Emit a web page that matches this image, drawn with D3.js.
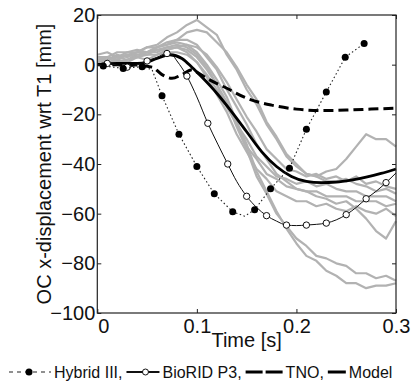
<!DOCTYPE html>
<html>
<head>
<meta charset="utf-8">
<script src="https://cdn.jsdelivr.net/npm/d3@7"></script>
<style>
  body { margin: 0; background: #fff; }
  text { font-family: "Liberation Sans", Arial, sans-serif; fill: #111; }
</style>
</head>
<body>
<div id="chart"></div>
<script>
// time grid shared by the grey subject curves [s]
const subjectTime = [0, 0.01, 0.02, 0.03, 0.04, 0.05, 0.06, 0.07, 0.08, 0.09, 0.10,
  0.11, 0.12, 0.13, 0.14, 0.15, 0.16, 0.17, 0.18, 0.19, 0.20,
  0.21, 0.22, 0.23, 0.24, 0.25, 0.26, 0.27, 0.28, 0.29, 0.30];

// volunteer curves (grey), OC x-displacement [mm]
const subjects = [
  [2, 3, 2, 4, 5, 7, 8, 11, 13, 16, 18, 15, 12, 4, -2, -10, -16, -24, -30, -37, -41, -44, -45, -43, -42, -38, -33, -28, -30, -30, -33],
  [1, 2, 4, 3, 5, 5, 7, 9, 10, 13, 14, 13, 9, 5, -1, -8, -14, -23, -29, -36, -40, -44, -45, -47, -47, -46, -48, -49, -51, -50, -52],
  [4, 5, 3, 5, 6, 5, 7, 8, 10, 10, 8, 3, -2, -10, -17, -24, -32, -38, -44, -47, -50, -51, -51, -53, -53, -53, -55, -55, -55, -57, -56],
  [0, 1, 2, 1, 3, 4, 4, 6, 7, 6, 3, -2, -8, -17, -24, -33, -38, -44, -46, -49, -50, -51, -53, -54, -56, -55, -58, -62, -67, -70, -63],
  [2, 3, 2, 4, 4, 4, 6, 6, 7, 5, 1, -5, -12, -19, -28, -35, -42, -46, -51, -53, -55, -55, -57, -56, -58, -59, -57, -59, -60, -58, -61],
  [1, 2, 3, 2, 4, 5, 5, 7, 8, 7, 4, -1, -8, -15, -25, -34, -45, -52, -60, -65, -70, -73, -77, -78, -80, -81, -84, -84, -86, -85, -87],
  [3, 3, 5, 5, 5, 7, 7, 8, 9, 8, 5, 0, -6, -13, -23, -32, -43, -51, -59, -66, -72, -77, -79, -83, -85, -88, -88, -90, -89, -89, -88],
  [2, 2, 3, 4, 3, 5, 6, 7, 7, 8, 7, 4, -1, -7, -14, -21, -27, -34, -38, -42, -43, -45, -44, -46, -45, -47, -45, -48, -47, -49, -50],
  [0, 1, 1, 2, 3, 2, 4, 5, 5, 4, 1, -4, -10, -16, -24, -30, -37, -41, -45, -46, -48, -47, -49, -48, -50, -51, -51, -53, -53, -53, -55]
];

// Hybrid III (dotted line, filled markers)
const hybridTime = [0, 0.006, 0.026, 0.045, 0.055, 0.065, 0.082, 0.1, 0.1175, 0.136, 0.148, 0.158, 0.174, 0.193, 0.21, 0.23, 0.249, 0.268, 0.272];
const hybridDisp = [0, -0.5, -1.5, -0.8, -2, -12.5, -28, -41, -52, -59.2, -61, -58.4, -50, -41.7, -26, -11, 3, 8.5, 9.5];
const hybridMarkTime = [0.006, 0.026, 0.045, 0.065, 0.082, 0.1, 0.1175, 0.136, 0.158, 0.174, 0.193, 0.21, 0.23, 0.249, 0.268];
const hybridMarkDisp = [-0.5, -1.5, -0.8, -12.5, -28, -41, -52, -59.2, -58.4, -50, -41.7, -26, -11, 3, 8.5];

// BioRID P3 (thin solid line, open markers)
const bioridTime = [0, 0.01, 0.03, 0.05, 0.06, 0.07, 0.075, 0.08, 0.09, 0.1, 0.111, 0.121, 0.131, 0.14, 0.15, 0.16, 0.17, 0.18, 0.19, 0.2, 0.21, 0.22, 0.23, 0.24, 0.25, 0.26, 0.27, 0.28, 0.29, 0.3];
const bioridDisp = [0, 0.5, -1, 1.5, 3, 4.5, 4, 1.5, -4.6, -13, -23.6, -32, -40, -47, -53, -57.5, -60.8, -63, -64.6, -64.8, -64.6, -64.3, -63.8, -62.5, -60.4, -57.5, -54, -51, -47.5, -43.6];
const bioridMarkTime = [0.01, 0.03, 0.05, 0.07, 0.09, 0.111, 0.131, 0.15, 0.17, 0.19, 0.21, 0.23, 0.25, 0.27, 0.29];
const bioridMarkDisp = [0.5, -1, 1.5, 4.5, -4.6, -23.6, -40, -53, -60.8, -64.6, -64.6, -63.8, -60.4, -54, -47.5];

// TNO (thick dashed)
const tnoTime = [0, 0.03, 0.055, 0.065, 0.075, 0.085, 0.095, 0.1, 0.11, 0.13, 0.15, 0.175, 0.2, 0.225, 0.25, 0.275, 0.3];
const tnoDisp = [0, 0, -1, -4, -5.5, -4, -2, -3, -5.5, -9.5, -13.5, -16.3, -17.9, -18.5, -18.3, -17.9, -17.5];

// Model (thick solid)
const modelTime = [0, 0.02, 0.04, 0.05, 0.06, 0.073, 0.085, 0.095, 0.105, 0.12, 0.135, 0.15, 0.165, 0.18, 0.195, 0.21, 0.225, 0.24, 0.255, 0.27, 0.285, 0.3];
const modelDisp = [0, 0.5, 0.5, 1, 2.5, 4, 2.5, -1, -5, -11.5, -19, -27, -35, -41, -45, -47, -47.5, -47.3, -46.5, -45.3, -43.8, -42];

const xTicks = [0, 0.1, 0.2, 0.3];
const yTicks = [20, 0, -20, -40, -60, -80, -100];
const legendLabels = ['Hybrid III,', 'BioRID P3,', 'TNO,', 'Model'];

const width = 411, height = 383;
const plot = {left: 97.3, right: 396, top: 15, bottom: 313};

const svg = d3.select('#chart').append('svg')
  .attr('width', width)
  .attr('height', height);

const x = d3.scaleLinear().domain([0, 0.3]).range([plot.left, plot.right]);
const y = d3.scaleLinear().domain([-100, 20]).range([plot.bottom, plot.top]);

const zip = (ts, vs) => ts.map((t, i) => [t, vs[i]]);
const line = d3.line().x(d => x(d[0])).y(d => y(d[1]));
const smooth = d3.line().x(d => x(d[0])).y(d => y(d[1])).curve(d3.curveMonotoneX);

// grey subject curves
svg.append('g')
  .selectAll('path')
  .data(subjects)
  .enter().append('path')
    .attr('d', d => line(zip(subjectTime, d)))
    .attr('fill', 'none')
    .attr('stroke', '#b2b2b2')
    .attr('stroke-width', 2.2)
    .attr('stroke-linejoin', 'round');

// TNO
svg.append('path')
  .attr('d', smooth(zip(tnoTime, tnoDisp)))
  .attr('fill', 'none')
  .attr('stroke', '#000')
  .attr('stroke-width', 3)
  .attr('stroke-dasharray', '10,5');

// Model
svg.append('path')
  .attr('d', smooth(zip(modelTime, modelDisp)))
  .attr('fill', 'none')
  .attr('stroke', '#000')
  .attr('stroke-width', 2.8);

// BioRID P3
svg.append('path')
  .attr('d', smooth(zip(bioridTime, bioridDisp)))
  .attr('fill', 'none')
  .attr('stroke', '#111')
  .attr('stroke-width', 1);

svg.append('g')
  .selectAll('circle')
  .data(zip(bioridMarkTime, bioridMarkDisp))
  .enter().append('circle')
    .attr('cx', d => x(d[0]))
    .attr('cy', d => y(d[1]))
    .attr('r', 3.2)
    .attr('fill', '#fff')
    .attr('stroke', '#111')
    .attr('stroke-width', 1);

// Hybrid III
svg.append('path')
  .attr('d', line(zip(hybridTime, hybridDisp)))
  .attr('fill', 'none')
  .attr('stroke', '#222')
  .attr('stroke-width', 1.1)
  .attr('stroke-dasharray', '1.5,2.5');

svg.append('g')
  .selectAll('circle')
  .data(zip(hybridMarkTime, hybridMarkDisp))
  .enter().append('circle')
    .attr('cx', d => x(d[0]))
    .attr('cy', d => y(d[1]))
    .attr('r', 3.5)
    .attr('fill', '#000');

// axes (MATLAB style, ticks inside)
const styleAxis = g => {
  g.select('.domain').remove();
  g.selectAll('line').attr('stroke', '#222');
  g.selectAll('text').attr('font-size', 20).attr('fill', '#111')
    .attr('font-family', '"Liberation Sans", Arial, sans-serif');
};

const xAxisG = svg.append('g')
  .attr('transform', 'translate(0,' + plot.bottom + ')')
  .call(d3.axisBottom(x).tickValues(xTicks).tickFormat(d3.format('')).tickSizeInner(-4).tickPadding(6))
  .call(styleAxis);
// first label sits a little right of its tick, as in the original
xAxisG.selectAll('text').filter(d => d === 0).attr('dx', 6);

svg.append('g')
  .attr('transform', 'translate(0,' + plot.top + ')')
  .call(d3.axisTop(x).tickValues(xTicks).tickFormat('').tickSizeInner(-4))
  .call(styleAxis);

svg.append('g')
  .attr('transform', 'translate(' + plot.left + ',0)')
  .call(d3.axisLeft(y).tickValues(yTicks).tickSizeInner(-4).tickPadding(2))
  .call(styleAxis);

svg.append('g')
  .attr('transform', 'translate(' + plot.right + ',0)')
  .call(d3.axisRight(y).tickValues(yTicks).tickFormat('').tickSizeInner(-4))
  .call(styleAxis);

// frame
svg.append('rect')
  .attr('x', plot.left)
  .attr('y', plot.top)
  .attr('width', plot.right - plot.left)
  .attr('height', plot.bottom - plot.top)
  .attr('fill', 'none')
  .attr('stroke', '#222')
  .attr('stroke-width', 1.2);

// axis titles
svg.append('text')
  .attr('x', (plot.left + plot.right) / 2)
  .attr('y', 347)
  .attr('text-anchor', 'middle')
  .attr('font-size', 20)
  .text('Time [s]');

svg.append('text')
  .attr('transform', 'translate(51,' + ((plot.top + plot.bottom) / 2) + ') rotate(-90)')
  .attr('text-anchor', 'middle')
  .attr('font-size', 20)
  .text('OC x-displacement wrt T1 [mm]');

// legend row: sample, label, sample, label ... chained left to right
const legendY = 372;
const legend = svg.append('g').attr('class', 'legend');
let cursor = 9;

const addText = label => {
  const t = legend.append('text')
    .attr('x', cursor)
    .attr('y', legendY + 6)
    .attr('font-size', 16)
    .text(label);
  cursor += t.node().getComputedTextLength() + 4;
};

// Hybrid III sample
legend.append('line')
  .attr('x1', cursor).attr('x2', cursor + 42)
  .attr('y1', legendY).attr('y2', legendY)
  .attr('stroke', '#222').attr('stroke-width', 1.1)
  .attr('stroke-dasharray', '4,4');
legend.append('circle')
  .attr('cx', cursor + 20).attr('cy', legendY).attr('r', 3.5).attr('fill', '#000');
cursor += 45;
addText(legendLabels[0]);

// BioRID sample
legend.append('line')
  .attr('x1', cursor).attr('x2', cursor + 33)
  .attr('y1', legendY).attr('y2', legendY)
  .attr('stroke', '#111').attr('stroke-width', 2);
legend.append('circle')
  .attr('cx', cursor + 19).attr('cy', legendY).attr('r', 3)
  .attr('fill', '#fff').attr('stroke', '#111').attr('stroke-width', 1);
cursor += 36;
addText(legendLabels[1]);

// TNO sample
legend.append('line')
  .attr('x1', cursor).attr('x2', cursor + 37)
  .attr('y1', legendY).attr('y2', legendY)
  .attr('stroke', '#000').attr('stroke-width', 3)
  .attr('stroke-dasharray', '17,3');
cursor += 40;
addText(legendLabels[2]);

// Model sample
legend.append('line')
  .attr('x1', cursor).attr('x2', cursor + 18)
  .attr('y1', legendY).attr('y2', legendY)
  .attr('stroke', '#000').attr('stroke-width', 3);
cursor += 21;
addText(legendLabels[3]);
</script>
</body>
</html>
